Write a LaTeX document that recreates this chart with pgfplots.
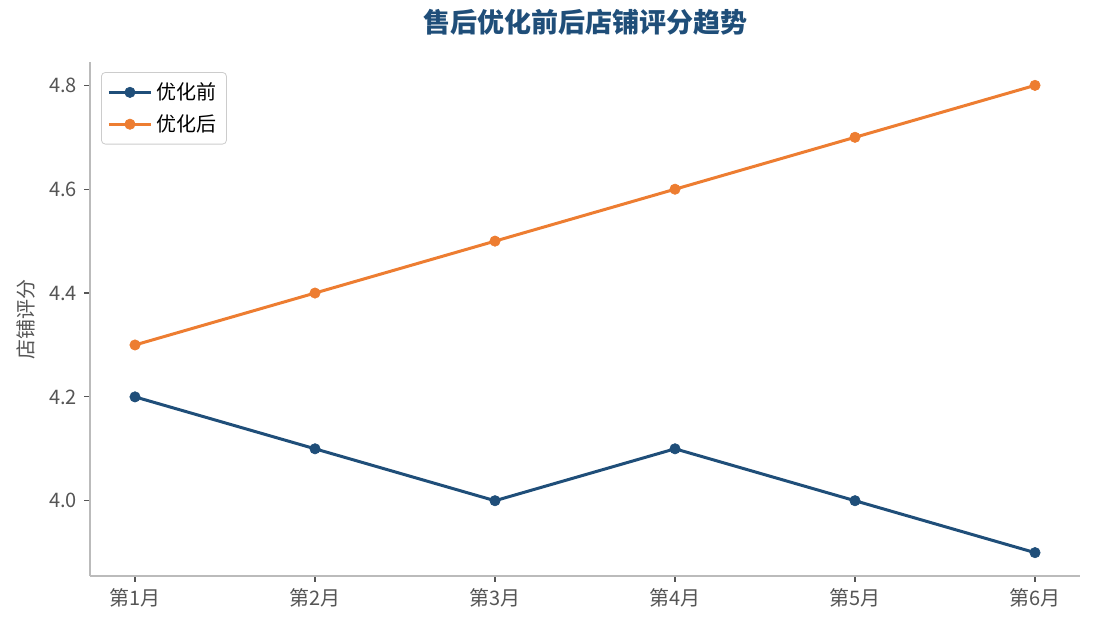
\documentclass[border=0pt]{standalone}
\usepackage{fontspec}
\setmainfont{Noto Sans CJK SC}
\usepackage{pgfplots}
\pgfplotsset{compat=1.18}
\definecolor{before}{HTML}{1F4E79}
\definecolor{after}{HTML}{ED7D31}
\definecolor{spine}{HTML}{BBBBBB}
\definecolor{ticktext}{HTML}{555555}

\begin{document}
\begin{tikzpicture}
\begin{axis}[
    at={(45pt,27pt)}, anchor=south west,
    scale only axis,
    width=495pt, height=257pt,
    xmin=-0.25, xmax=5.25,
    ymin=3.855, ymax=4.845,
    axis x line*=bottom, axis y line*=left,
    axis line style={spine, line width=0.6pt, -},
    xtick={0,1,2,3,4,5},
    xticklabels={第1月,第2月,第3月,第4月,第5月,第6月},
    ytick={4.0,4.2,4.4,4.6,4.8},
    yticklabel style={/pgf/number format/fixed, /pgf/number format/fixed zerofill, /pgf/number format/precision=1},
    /pgf/number format/assume math mode=true,
    tick align=outside, major tick length=3pt,
    tick style={ticktext, line width=0.6pt},
    ticklabel style={font=\fontsize{10}{12}\selectfont, text=ticktext},
    ylabel={店铺评分},
    ylabel style={font=\fontsize{10}{12}\selectfont, text=ticktext},
    title={\bfseries 售后优化前后店铺评分趋势},
    title style={font=\fontsize{13.5}{16}\selectfont, text=before, yshift=4pt},
    legend style={at={(0,1)}, anchor=north west, xshift=5.5pt, yshift=-5pt,
        draw=black!20, rounded corners=2pt, font=\fontsize{10}{12}\selectfont,
        row sep=2pt, inner sep=3pt},
    legend cell align=left,
    legend image code/.code={
        \draw[mark repeat=2,mark phase=2] plot coordinates {(0cm,0cm) (0.37cm,0cm) (0.74cm,0cm)};},
]
\addplot[before, line width=1.5pt, mark=*, mark size=2.6pt, mark options={line width=0.3pt}] coordinates {
    (0,4.2) (1,4.1) (2,4.0) (3,4.1) (4,4.0) (5,3.9)};
\addlegendentry{优化前}
\addplot[after, line width=1.5pt, mark=*, mark size=2.6pt, mark options={line width=0.3pt}] coordinates {
    (0,4.3) (1,4.4) (2,4.5) (3,4.6) (4,4.7) (5,4.8)};
\addlegendentry{优化后}
\end{axis}
\pgfresetboundingbox
\useasboundingbox (0,0) rectangle (547.5pt,315pt);
\end{tikzpicture}
\end{document}
